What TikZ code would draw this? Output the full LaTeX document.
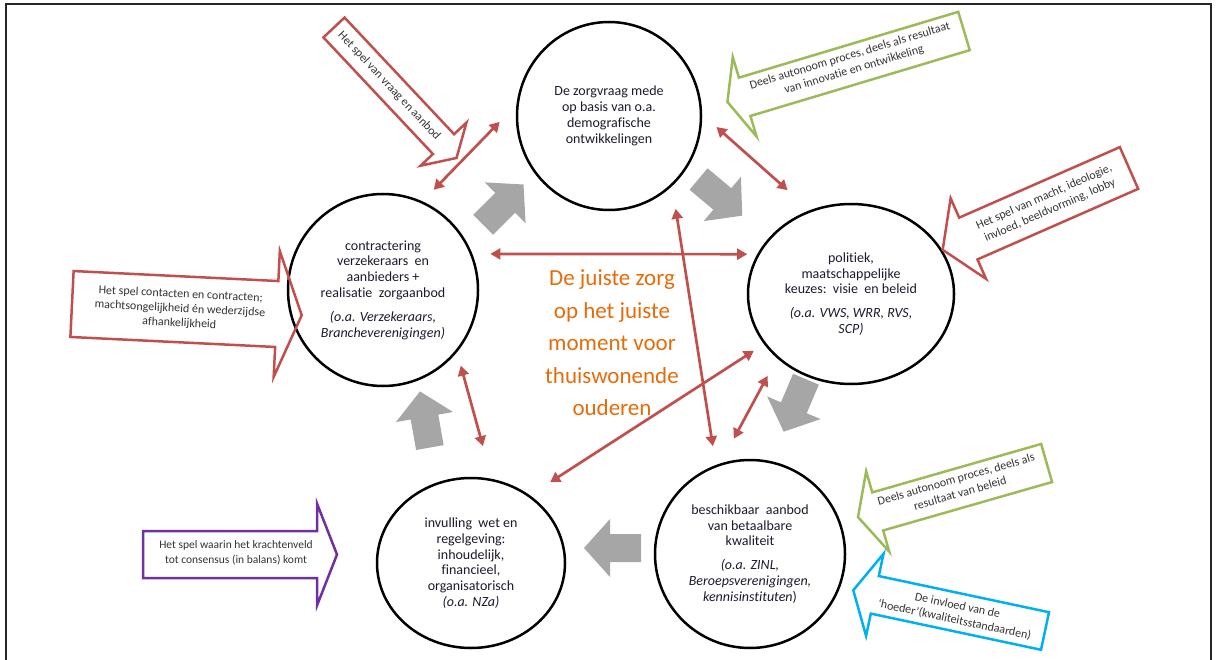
\documentclass[tikz,border=0pt]{standalone}
\usepackage{fontspec}
\setmainfont{Carlito}[Ligatures={NoCommon}]
\usetikzlibrary{arrows.meta,shapes.geometric}
\definecolor{cred}{HTML}{C0504D}
\definecolor{cgreen}{HTML}{9BBB59}
\definecolor{cblue}{HTML}{00B0F0}
\definecolor{cpurple}{HTML}{7030A0}
\definecolor{cgrey}{HTML}{A6A6A6}
\definecolor{corange}{HTML}{E46C0A}
\definecolor{ctxt}{HTML}{1A1A2E}
\tikzset{
  circ/.style={ellipse, draw=black, line width=2.5pt, align=center, inner sep=0pt,
    text=ctxt, font=\fontsize{14}{15.8}\selectfont},
  link/.style={cred, line width=2.7pt,
    {Triangle[length=10pt,width=11pt]}-{Triangle[length=10pt,width=11pt]}},
  ctext/.style={align=center, inner sep=0pt, text=black!80,
    font=\fontsize{12}{14.5}\selectfont},
  garrow/.style={fill=cgrey, draw=none},
}
\newcommand\greyarr[3]{%
  \begin{scope}[shift={(#1,#2)},rotate=#3]
    \fill[garrow] (-28,-14) -- (3,-14) -- (3,-29) -- (29,0) -- (3,29) -- (3,14) -- (-28,14) -- cycle;
  \end{scope}}
\newcommand\callout[8]{%
  \begin{scope}[shift={(#2,#3)},rotate=#4]
    \draw[#1, line width=2.5pt, line join=miter]
      (0,-#6) -- (#5,-#6) -- (#5,-#8) -- ({#5+#7},0) -- (#5,#8) -- (#5,#6) -- (0,#6) -- cycle;
  \end{scope}}
\begin{document}
\begin{tikzpicture}[x=1pt,y=-1pt]
\useasboundingbox (0,0) rectangle (1217,660);
% frame
\draw[line width=1.8pt, black!85] (6,660) -- (6,4) -- (1211,4) -- (1211,660);

% circles
\node[circ, minimum width=184pt, minimum height=188pt] (c1) at (609,116)
  {De zorgvraag mede\\op basis van o.a.\\demografische\\ontwikkelingen};
\node[circ, minimum width=206pt, minimum height=180pt] (c2) at (851,294)
  {politiek,\\maatschappelijke\\keuzes:\ \ visie\ \ en beleid\\[8pt]
   \itshape (o.a. VWS, WRR, RVS,\\\itshape SCP)};
\node[circ, minimum width=190pt, minimum height=192pt] (c3) at (383,290)
  {contractering\\verzekeraars\ \ en\\aanbieders +\\realisatie\ \ zorgaanbod\\[8pt]
   \itshape (o.a. Verzekeraars,\\\itshape Brancheverenigingen)};
\node[circ, minimum width=188pt, minimum height=170pt] (c4) at (471,563)
  {invulling\ \ wet en\\regelgeving:\\inhoudelijk,\\financieel,\\organisatorisch\\\itshape (o.a. NZa)};
\node[circ, minimum width=190pt, minimum height=188pt] (c5) at (750,554)
  {beschikbaar\ \ aanbod\\van betaalbare\\kwaliteit\\[8pt]
   \itshape (o.a. ZINL,\\\itshape Beroepsverenigingen,\\\textit{kennisinstituten})};

% centre text
\node[align=center, text=corange, font=\fontsize{23}{32.5}\selectfont, inner sep=0pt] (mid) at (612,343)
  {De juiste zorg\\op het juiste\\moment voor\\thuiswonende\\ouderen};

% red links
\draw[link, shorten <=16pt, shorten >=24pt] (c3.66) -- (c1.173);
\draw[link, shorten <=19pt, shorten >=30pt] (c1.1) -- (c2.116);
\draw[link, shorten <=18pt, shorten >=10pt] (c3.22) -- (c2.157);
\draw[link, shorten <=23pt, shorten >=19pt] (c1.-48) -- (c5.111);
\draw[link, shorten <=12pt, shorten >=24pt] (c2.210) -- (c4.49);
\draw[link, shorten <=20pt, shorten >=28pt] (c2.221) -- (c5.108);
\draw[link, shorten <=14pt, shorten >=34pt] (c3.-40) -- (c4.76);

% grey flow arrows
\greyarr{503}{205}{45}
\greyarr{720}{197}{-40}
\greyarr{795}{405}{-113}
\greyarr{613}{548}{180}
\greyarr{425}{420}{100}

% callouts
\callout{cred}{334}{27.5}{-46.8}{160}{14.5}{19}{31.5}
\node[ctext, rotate=-46.8] (t1) at (389,86) {Het spel van vraag en aanbod};

\callout{cgreen}{964}{31}{196.7}{229}{20}{18}{41.5}
\node[ctext, rotate=16.7] (t2) at (852,63) {Deels autonoom proces, deels als resultaat\\van innovatie en ontwikkeling};

\callout{cred}{1129}{168}{203.7}{175.5}{22.8}{28}{44}
\node[ctext, rotate=23.7] (t3) at (1047,204) {Het spel van macht, ideologie,\\invloed, beeldvorming, lobby};

\callout{cred}{72}{304}{-2.8}{205}{33}{25}{63}
\node[ctext, rotate=-2.8] (t4) at (180,309) {Het spel contacten en contracten;\\machtsongelijkheid én wederzijdse\\afhankelijkheid};

\callout{cpurple}{143}{554.5}{0}{174}{23.5}{20}{51}
\node[ctext, font=\fontsize{11.5}{14.5}\selectfont] (t5) at (236,553) {Het spel waarin het krachtenveld\\tot consensus (in balans) komt};

\callout{cgreen}{1046.6}{463}{196}{175.7}{19.8}{20.5}{41.8}
\node[ctext, rotate=16] (t6) at (958,486) {Deels autonoom proces, deels als\\resultaat van beleid};

\callout{cblue}{1045}{631}{168}{174}{19.2}{22}{42}
\node[ctext, rotate=-12] (t7) at (956,613) {De invloed van de\\‘hoeder’(kwaliteitsstandaarden)};
\end{tikzpicture}
\end{document}
